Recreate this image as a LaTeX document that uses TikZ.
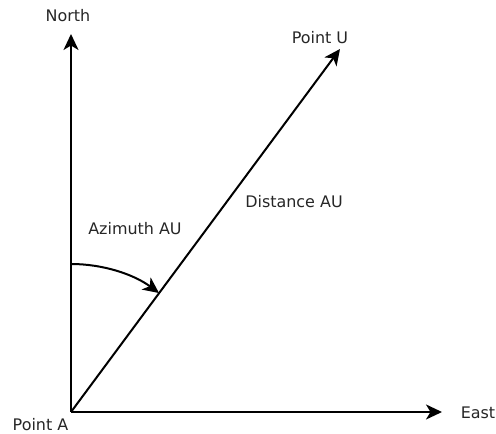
\documentclass[tikz,border=0pt]{standalone}
\usepackage{fontspec}
\setmainfont{DejaVu Sans}
\usetikzlibrary{arrows.meta}
\begin{document}
\begin{tikzpicture}[x=1bp, y=1bp,
  vec/.style={line width=2bp, -{Stealth[length=16bp, width=15bp, inset=4.5bp]}},
  lbl/.style={inner sep=0pt, text=black!85, font=\fontsize{16}{19}\selectfont}]
\useasboundingbox (0,0) rectangle (496,434);
\coordinate (a) at (71,22);
\coordinate (n) at (71,400);
\coordinate (e) at (442,22);
\coordinate (u) at (340,385);
\coordinate (s) at (71,170);

\node[lbl] (north) at (68,418) {North};
\node[lbl] (east) at (478,21.5) {East};
\node[lbl] (pu) at (320,396.5) {Point U};
\node[lbl] (pa) at (40.5,9) {Point A};
\node[lbl] (dist) at (294,232) {Distance AU};
\node[lbl] (azi) at (135,205) {Azimuth AU};

\draw[vec] (a) -- (n);
\draw[vec] (a) -- (e);
\draw[vec] (a) -- (u);
\draw[vec] (s) arc[start angle=90, end angle=53.5, radius=148];
\end{tikzpicture}
\end{document}
